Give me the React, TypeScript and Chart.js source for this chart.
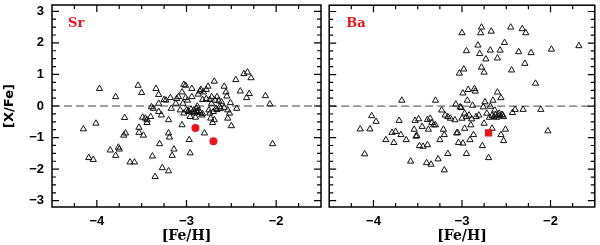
import React, { useEffect, useRef } from 'react';
import { Chart, registerables } from 'chart.js';
Chart.register(...registerables);

const X_MIN = -4.5;
const X_MAX = -1.5;
const Y_MIN = -3.2;
const Y_MAX = 3.2;
const X_TICKS = [-4, -3, -2];
const Y_TICKS = [-3, -2, -1, 0, 1, 2, 3];
const MINOR_STEP = 0.25;
const RED = 'rgb(232,22,28)';

const SR_FEH = [
  -4.15, -4.09, -4.04, -4.01, -3.97, -3.85, -3.79, -3.79, -3.76, -3.75, -3.69, -3.70, -3.68, -3.63, -3.58,
  -3.54, -3.53, -3.53, -3.50, -3.49, -3.48, -3.46, -3.44, -3.44, -3.40, -3.39, -3.38, -3.37, -3.34, -3.35,
  -3.31, -3.31, -3.31, -3.30, -3.28, -3.27, -3.25, -3.23, -3.20, -3.20, -3.20, -3.19, -3.18, -3.17, -3.16,
  -3.14, -3.12, -3.11, -3.09, -3.07, -3.05, -3.05, -3.04, -3.03, -3.03, -3.01, -3.01, -3.00, -2.99, -2.98,
  -2.97, -2.96, -2.96, -2.95, -2.94, -2.94, -2.92, -2.91, -2.91, -2.90, -2.89, -2.88, -2.88, -2.87, -2.85,
  -2.84, -2.85, -2.83, -2.82, -2.81, -2.80, -2.78, -2.78, -2.76, -2.75, -2.74, -2.74, -2.73, -2.72, -2.72,
  -2.71, -2.69, -2.69, -2.68, -2.67, -2.66, -2.64, -2.63, -2.62, -2.61, -2.58, -2.58, -2.56, -2.55, -2.54,
  -2.54, -2.52, -2.51, -2.50, -2.45, -2.44, -2.40, -2.36, -2.33, -2.32, -2.30, -2.28, -2.12, -2.07, -2.04,
  -2.98, -2.93, -2.86, -2.82, -2.70, -2.66,
];
const SR_XFE = [
  -0.73, -1.64, -1.70, -0.55, 0.55, -1.40, -1.57, 0.29, -1.31, -1.37, -0.37, -0.93, -0.86, -1.78, -1.78,
  0.65, -0.68, -0.84, 0.42, -0.36, -0.93, -0.39, -0.44, -0.53, -0.34, -0.03, -1.59, -0.08, 0.55, -2.24,
  0.08, 0.36, -0.18, -1.20, -0.29, -1.96, 0.20, 0.18, -2.06, -0.44, -0.86, -0.99, 0.26, -0.08, -1.57,
  -1.37, 0.08, 0.23, 0.29, -0.13, -0.60, 0.44, 0.08, -0.23, 0.68, 0.65, 0.26, -0.13, 0.18, -0.18,
  -1.07, -1.49, -0.34, -0.11, 0.55, 0.29, -0.13, -0.23, -0.18, -0.36, -0.08, -0.01, -0.18, 0.37, 0.47,
  0.52, -0.21, -0.29, 0.20, 0.44, -0.86, 0.52, 0.23, 0.62, -0.13, 0.20, -0.23, -0.39, 0.29, 0.08,
  -0.53, -0.44, 0.78, 0.18, -0.08, 0.29, 0.16, -0.03, -0.08, 0.13, -0.05, 0.62, 0.44, 0.31, -0.13,
  -0.39, -0.23, 0.10, -0.63, 0.83, -0.08, 0.47, 1.02, 0.26, 1.07, 0.39, 0.89, 0.32, 0.06, -1.20,
  -0.15, -0.20, -0.15, -0.25, -0.18, -0.12,
];
const SR_RED_FEH = [-2.90, -2.70];
const SR_RED_XFE = [-0.70, -1.12];

const BA_FEH = [
  -4.15, -4.10, -4.04, -4.02, -3.97, -3.86, -3.79, -3.77, -3.75, -3.71, -3.69, -3.68, -3.63, -3.58, -3.54,
  -3.53, -3.52, -3.51, -3.49, -3.48, -3.45, -3.44, -3.40, -3.39, -3.39, -3.38, -3.36, -3.35, -3.34, -3.32,
  -3.30, -3.30, -3.27, -3.25, -3.23, -3.21, -3.20, -3.20, -3.19, -3.16, -3.16, -3.13, -3.08, -3.07, -3.06,
  -3.05, -3.04, -3.03, -3.02, -3.01, -3.00, -3.00, -2.99, -2.99, -2.98, -2.97, -2.97, -2.95, -2.95, -2.95,
  -2.94, -2.93, -2.92, -2.91, -2.90, -2.89, -2.88, -2.87, -2.86, -2.85, -2.84, -2.82, -2.81, -2.80, -2.79,
  -2.78, -2.78, -2.77, -2.76, -2.75, -2.75, -2.74, -2.73, -2.72, -2.70, -2.69, -2.68, -2.68, -2.67, -2.66,
  -2.65, -2.64, -2.63, -2.61, -2.60, -2.60, -2.58, -2.57, -2.56, -2.56, -2.54, -2.53, -2.53, -2.52, -2.51,
  -2.45, -2.44, -2.43, -2.40, -2.36, -2.32, -2.31, -2.29, -2.28, -2.22, -2.17, -2.11, -2.03, -1.99, -1.68,
  -2.66, -2.62, -2.58, -2.55,
];
const BA_XFE = [
  -0.73, -1.52, -0.73, -0.31, -0.49, -1.07, -0.84, -1.16, -0.81, -0.46, -0.91, 0.18, -1.07, -1.75, -0.74,
  -0.46, -0.96, -0.94, -0.41, -1.26, -0.65, -1.28, -1.80, -0.43, -1.23, -0.74, -0.39, -1.85, -0.53, -0.60,
  0.18, -0.60, -1.68, -1.07, -0.13, -0.74, -0.91, -2.03, -0.29, -1.51, -0.34, -0.39, -0.44, 0.06, -0.86,
  -0.84, -1.16, 1.04, -0.03, -0.05, 2.32, -0.39, 0.41, -1.18, 1.17, -0.71, -0.23, -0.34, -1.51, 1.75,
  0.18, 0.52, -0.29, -1.07, -0.60, -0.41, 0.02, -0.91, 0.55, 0.47, -0.34, 1.93, -0.29, 1.66, 2.32,
  1.23, 2.50, -1.26, -0.03, 1.07, -0.55, 0.13, 1.49, -0.23, -1.64, -0.36, 1.77, -0.01, 2.37, -0.71,
  0.18, -0.34, -0.13, -0.36, 0.44, 1.52, -0.23, 1.77, -0.91, 0.26, -0.29, -1.10, -0.34, 2.01, -0.74,
  2.50, 1.14, -0.21, -0.11, 1.72, 2.45, -0.11, 1.35, 2.32, 1.69, 0.72, -0.11, -0.79, 1.80, 1.91,
  -0.30, -0.28, -0.31, -0.27,
];
const BA_RED_FEH = [-2.70];
const BA_RED_XFE = [-0.85];

const fmt = (v: number) => (v < 0 ? '\u2212' + Math.abs(v) : String(v));
const pts = (xs: number[], ys: number[]) => xs.map((x, i) => ({ x, y: ys[i] }));

const framePlugin = {
  id: 'frameTicks',
  afterDraw(chart: any, _args: any, opts: any) {
    const { ctx, chartArea: a, scales } = chart;
    const xs = scales.x;
    const ys = scales.y;
    ctx.save();
    ctx.strokeStyle = '#000';
    ctx.lineWidth = 1.2;
    const major = 7;
    const minor = 4;
    const nx = Math.round((X_MAX - X_MIN) / MINOR_STEP);
    for (let i = 1; i < nx; i++) {
      const v = X_MIN + i * MINOR_STEP;
      const len = Math.abs(v - Math.round(v)) < 1e-6 ? major : minor;
      const px = xs.getPixelForValue(v);
      ctx.beginPath();
      ctx.moveTo(px, a.bottom);
      ctx.lineTo(px, a.bottom - len);
      ctx.moveTo(px, a.top);
      ctx.lineTo(px, a.top + len);
      ctx.stroke();
    }
    const ny = Math.round((Y_MAX - Y_MIN) / MINOR_STEP);
    const y0 = Math.ceil(Y_MIN / MINOR_STEP) * MINOR_STEP;
    for (let i = 0; i <= ny; i++) {
      const v = y0 + i * MINOR_STEP;
      if (v <= Y_MIN || v >= Y_MAX) continue;
      const len = Math.abs(v - Math.round(v)) < 1e-6 ? major : minor;
      const py = ys.getPixelForValue(v);
      ctx.beginPath();
      ctx.moveTo(a.left, py);
      ctx.lineTo(a.left + len, py);
      ctx.moveTo(a.right, py);
      ctx.lineTo(a.right - len, py);
      ctx.stroke();
    }
    ctx.lineWidth = 1.5;
    ctx.strokeRect(a.left, a.top, a.right - a.left, a.bottom - a.top);
    ctx.fillStyle = RED;
    ctx.font = 'bold 13px "DejaVu Serif"';
    ctx.textBaseline = 'alphabetic';
    ctx.textAlign = 'left';
    ctx.fillText(opts.label, a.left + opts.dx, a.top + 22);
    ctx.restore();
  },
};

const tickFont = { family: '"Liberation Sans", Arial, sans-serif', weight: 'bold' as const, size: 13 };

function makeConfig(
  feh: number[], xfe: number[], redFeh: number[], redXfe: number[],
  label: string, isLeft: boolean,
): any {
  return {
    type: 'scatter',
    data: {
      datasets: [
        {
          data: [{ x: X_MIN, y: 0 }, { x: X_MAX, y: 0 }],
          showLine: true,
          borderColor: '#444',
          borderWidth: 1,
          borderDash: [8, 4],
          pointRadius: 0,
          order: 3,
        },
        {
          data: pts(feh, xfe),
          pointStyle: 'triangle',
          pointRadius: 3.6,
          pointBorderWidth: 1,
          pointBorderColor: '#111',
          pointBackgroundColor: 'rgba(0,0,0,0)',
          order: 2,
        },
        {
          data: pts(redFeh, redXfe),
          pointStyle: isLeft ? 'circle' : 'rect',
          pointRadius: isLeft ? 4 : 5.2,
          pointBorderWidth: 0,
          pointBackgroundColor: RED,
          pointBorderColor: RED,
          order: 1,
        },
      ],
    },
    options: {
      animation: false,
      responsive: false,
      maintainAspectRatio: false,
      events: [],
      layout: { padding: isLeft ? { top: 3, right: 1, left: 0, bottom: 0 } : { top: 3, right: 2, left: 1, bottom: 0 } },
      plugins: {
        legend: { display: false },
        tooltip: { enabled: false },
        frameTicks: { label, dx: isLeft ? 16 : 17 },
      },
      scales: {
        x: {
          type: 'linear',
          min: X_MIN,
          max: X_MAX,
          afterBuildTicks: (s: any) => { s.ticks = X_TICKS.map((v) => ({ value: v })); },
          afterFit: (s: any) => {
            s.height = 38;
            s.paddingLeft = 0;
            s.paddingRight = 0;
            s.paddingTop = 0;
            s.paddingBottom = 0;
          },
          grid: { display: false, drawTicks: false },
          border: { display: false },
          ticks: { padding: 7, font: tickFont, color: '#000', callback: (v: any) => fmt(Number(v)), maxRotation: 0, autoSkip: false },
          title: {
            display: true,
            text: '[Fe/H]',
            color: '#000',
            font: { family: '"DejaVu Serif", serif', weight: 'bold', size: 14 },
            padding: { top: 0, bottom: 0 },
          },
        },
        y: {
          type: 'linear',
          min: Y_MIN,
          max: Y_MAX,
          afterBuildTicks: (s: any) => { s.ticks = Y_TICKS.map((v) => ({ value: v })); },
          afterFit: (s: any) => {
            s.width = isLeft ? 52 : 0;
            s.paddingLeft = 0;
            s.paddingRight = 0;
            s.paddingTop = 0;
            s.paddingBottom = 0;
          },
          grid: { display: false, drawTicks: false },
          border: { display: false },
          ticks: { display: isLeft, padding: 8, font: tickFont, color: '#000', callback: (v: any) => fmt(Number(v)), autoSkip: false },
          title: {
            display: isLeft,
            text: '[X/Fe]',
            color: '#000',
            font: { family: '"DejaVu Sans", sans-serif', weight: 'bold', size: 13 },
            padding: { top: 2, bottom: 0 },
          },
        },
      },
    },
    plugins: [framePlugin],
  };
}

export default function App() {
  const leftRef = useRef<HTMLCanvasElement>(null);
  const rightRef = useRef<HTMLCanvasElement>(null);

  useEffect(() => {
    const c1 = new Chart(leftRef.current as HTMLCanvasElement, makeConfig(SR_FEH, SR_XFE, SR_RED_FEH, SR_RED_XFE, 'Sr', true));
    const c2 = new Chart(rightRef.current as HTMLCanvasElement, makeConfig(BA_FEH, BA_XFE, BA_RED_FEH, BA_RED_XFE, 'Ba', false));
    return () => {
      c1.destroy();
      c2.destroy();
    };
  }, []);

  return (
    <div style={{ position: 'absolute', left: 0, top: 0, width: 600, height: 245, background: '#fff' }}>
      <canvas ref={leftRef} width={326} height={245} style={{ position: 'absolute', left: 0, top: 0, width: 326, height: 245 }} />
      <canvas ref={rightRef} width={276} height={245} style={{ position: 'absolute', left: 324, top: 0, width: 276, height: 245 }} />
    </div>
  );
}
